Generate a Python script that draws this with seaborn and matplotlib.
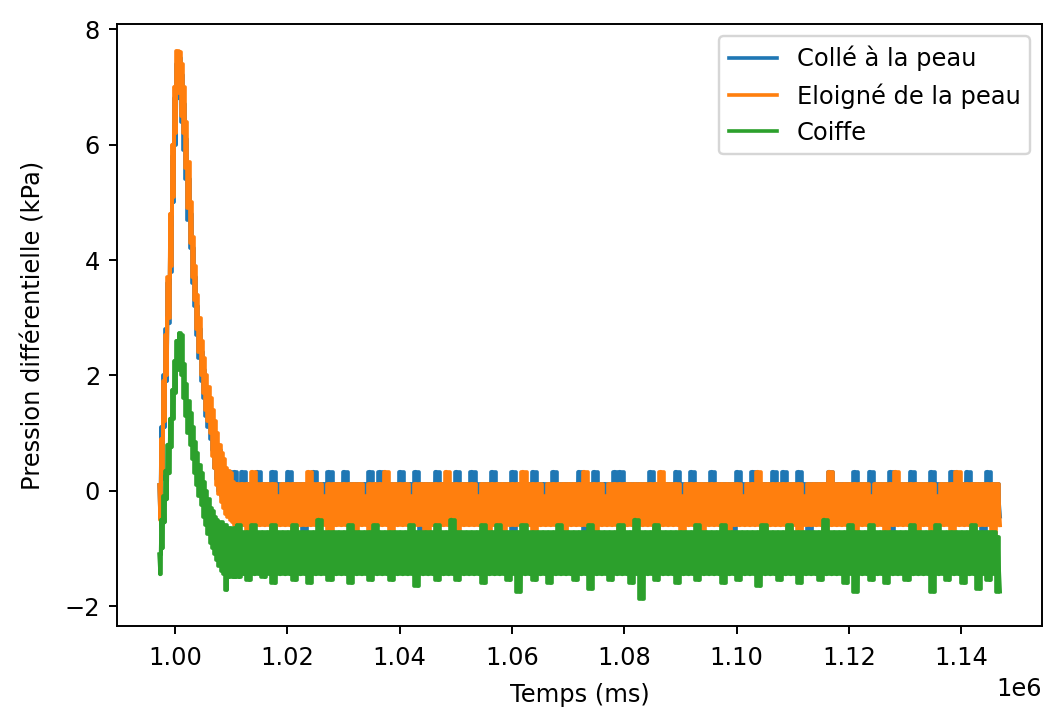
import numpy as np
import matplotlib
matplotlib.use("Agg")
import matplotlib.pyplot as plt
import seaborn as sns

# ---- data (kPa) ----
series_names = ["Collé à la peau", "Eloigné de la peau", "Coiffe"]
series_colors = ["#1f77b4", "#ff7f0e", "#2ca02c"]

# sample times (ms): pulse section and plateau section
t_pulse = np.linspace(997160, 1010800, 70)
t_flat = np.linspace(1011000, 1146940, 300)

# pulse section: upper / lower envelope of the noisy signal
blue_pulse_hi = [0.1, 1.1, 2.0, 2.8, 3.6, 4.6, 5.8, 6.8, 7.4, 7.5, 7.2, 6.7, 6.1, 5.4, 4.8, 4.2, 3.7, 3.2,
                 2.8, 2.4, 2.1, 1.8, 1.6, 1.4, 1.2, 1.0, 0.8, 0.7, 0.5, 0.4, 0.33, 0.33, 0.33, 0.12, 0.33]
blue_pulse_lo = [-0.45, 0.2, 1.1, 1.9, 2.9, 3.8, 5.0, 6.0, 6.8, 6.9, 6.4, 5.9, 5.4, 4.7, 4.2, 3.6, 3.2, 2.7,
                 2.3, 1.9, 1.6, 1.3, 1.1, 0.9, 0.7, 0.4, 0.2, 0.0, -0.1, -0.2, -0.3, -0.35, -0.45, -0.45, -0.45]
orange_pulse_hi = [0.1, 0.9, 1.9, 2.7, 3.7, 4.8, 6.0, 7.0, 7.62, 7.6, 7.4, 7.0, 6.4, 5.7, 5.0, 4.4, 3.9, 3.4,
                   3.0, 2.6, 2.3, 2.0, 1.8, 1.6, 1.4, 1.2, 1.0, 0.8, 0.65, 0.55, 0.4, 0.35, 0.3, 0.15, 0.12]
orange_pulse_lo = [-0.5, 0.3, 1.2, 2.0, 3.0, 3.9, 5.1, 6.2, 6.9, 7.0, 6.5, 6.2, 5.6, 4.9, 4.3, 3.7, 3.3, 2.8,
                   2.4, 2.0, 1.7, 1.4, 1.2, 1.0, 0.6, 0.4, 0.1, -0.05, -0.2, -0.3, -0.4, -0.45, -0.5, -0.55, -0.6]
green_pulse_hi = [-1.1, -0.5, -0.1, 0.35, 0.8, 1.25, 1.75, 2.25, 2.6, 2.73, 2.7, 2.2, 1.85, 1.55, 1.35, 1.1,
                  0.85, 0.65, 0.45, 0.3, 0.15, 0.0, -0.15, -0.3, -0.35, -0.45, -0.5, -0.55, -0.55, -0.6, -0.6,
                  -0.65, -0.65, -0.7, -0.65]
green_pulse_lo = [-1.45, -1.0, -0.55, -0.15, 0.3, 0.75, 1.25, 1.7, 2.1, 2.3, 2.0, 1.6, 1.3, 1.0, 0.8, 0.55,
                  0.3, 0.1, -0.1, -0.25, -0.45, -0.6, -0.75, -0.9, -1.0, -1.1, -1.2, -1.3, -1.4, -1.45, -1.72,
                  -1.5, -1.45, -1.5, -1.5]

# plateau section: upper / lower envelope
blue_flat_hi = [
    0.12, 0.33, 0.12, 0.12, 0.33, 0.12, 0.12, 0.33, 0.12, 0.12,
    0.33, 0.12, 0.12, 0.12, 0.12, 0.33, 0.12, 0.12, 0.33, 0.12,
    0.12, 0.33, 0.12, 0.12, 0.12, 0.12, 0.33, 0.12, 0.33, 0.12,
    0.12, 0.12, 0.33, 0.12, 0.12, 0.33, 0.12, 0.12, 0.12, 0.33,
    0.12, 0.12, 0.12, 0.33, 0.12, 0.12, 0.33, 0.12, 0.12, 0.12,
    0.33, 0.12, 0.12, 0.12, 0.33, 0.12, 0.12, 0.12, 0.33, 0.12,
    0.12, 0.12, 0.33, 0.12, 0.12, 0.12, 0.12, 0.33, 0.12, 0.12,
    0.33, 0.12, 0.12, 0.12, 0.33, 0.33, 0.12, 0.12, 0.12, 0.12,
    0.12, 0.33, 0.12, 0.12, 0.12, 0.12, 0.33, 0.12, 0.12, 0.33,
    0.12, 0.12, 0.12, 0.33, 0.12, 0.12, 0.12, 0.12, 0.33, 0.12,
    0.12, 0.33, 0.12, 0.12, 0.12, 0.33, 0.12, 0.33, 0.12, 0.12,
    0.33, 0.12, 0.12, 0.12, 0.12, 0.12, 0.33, 0.12, 0.12, 0.12,
    0.12, 0.33, 0.12, 0.12, 0.33, 0.12, 0.12, 0.12, 0.33, 0.12,
    0.12, 0.12, 0.33, 0.12, 0.12, 0.12, 0.33, 0.12, 0.12, 0.12,
    0.33, 0.12, 0.12, 0.33, 0.12, 0.12, 0.12, 0.33, 0.12, 0.12]
blue_flat_lo = [
    -0.45, -0.45, -0.55, -0.45, -0.45, -0.45, -0.45, -0.45, -0.55, -0.45,
    -0.45, -0.45, -0.45, -0.7, -0.45, -0.45, -0.45, -0.45, -0.45, -0.55,
    -0.45, -0.45, -0.45, -0.45, -0.55, -0.45, -0.45, -0.45, -0.45, -0.45,
    -0.55, -0.45, -0.45, -0.45, -0.45, -0.45, -0.7, -0.45, -0.45, -0.45,
    -0.45, -0.45, -0.55, -0.45, -0.45, -0.45, -0.45, -0.45, -0.55, -0.45,
    -0.45, -0.45, -0.45, -0.45, -0.7, -0.45, -0.45, -0.55, -0.45, -0.45,
    -0.45, -0.55, -0.45, -0.45, -0.45, -0.45, -0.45, -0.45, -0.7, -0.45,
    -0.45, -0.45, -0.45, -0.55, -0.45, -0.45, -0.45, -0.45, -0.45, -0.55,
    -0.45, -0.45, -0.7, -0.45, -0.45, -0.55, -0.45, -0.45, -0.45, -0.45,
    -0.45, -0.45, -0.45, -0.45, -0.55, -0.45, -0.45, -0.7, -0.45, -0.45,
    -0.55, -0.45, -0.45, -0.45, -0.45, -0.45, -0.55, -0.45, -0.45, -0.45,
    -0.45, -0.45, -0.7, -0.45, -0.45, -0.45, -0.45, -0.55, -0.45, -0.45,
    -0.45, -0.45, -0.45, -0.55, -0.45, -0.45, -0.45, -0.45, -0.7, -0.45,
    -0.45, -0.55, -0.45, -0.45, -0.45, -0.45, -0.55, -0.45, -0.45, -0.45,
    -0.45, -0.45, -0.45, -0.55, -0.45, -0.45, -0.7, -0.45, -0.45, -0.45]
orange_flat_hi = [
    0.12, 0.12, 0.12, 0.33, 0.12, 0.12, 0.12, 0.12, -0.1, 0.12,
    0.12, 0.12, 0.12, 0.12, 0.33, 0.12, 0.12, -0.1, 0.12, 0.12,
    0.12, 0.12, 0.12, 0.12, 0.12, -0.1, 0.12, 0.12, 0.12, 0.33,
    0.12, 0.12, 0.12, 0.12, -0.1, 0.12, 0.12, 0.12, 0.12, 0.12,
    0.12, 0.33, 0.12, 0.12, 0.12, 0.12, 0.12, -0.1, 0.12, 0.12,
    0.12, 0.12, 0.12, 0.12, 0.12, 0.12, 0.33, 0.12, 0.12, 0.12,
    -0.1, 0.12, 0.12, 0.12, 0.12, 0.12, 0.12, 0.12, 0.33, 0.12,
    0.12, 0.12, -0.1, 0.12, 0.12, 0.12, 0.12, 0.12, 0.12, 0.12,
    0.12, 0.12, 0.12, 0.33, 0.12, 0.12, 0.12, -0.1, 0.12, 0.12,
    0.12, 0.12, 0.12, 0.12, 0.12, 0.12, 0.12, 0.12, 0.12, -0.1,
    0.12, 0.12, 0.33, 0.12, 0.12, 0.12, 0.12, 0.12, 0.12, 0.12,
    0.12, -0.1, 0.12, 0.12, 0.12, 0.12, 0.33, 0.12, 0.12, 0.12,
    0.12, 0.12, 0.12, 0.12, -0.1, 0.12, 0.12, 0.12, 0.12, 0.33,
    0.12, 0.12, 0.12, 0.12, 0.12, 0.12, 0.12, -0.1, 0.12, 0.12,
    0.12, 0.33, 0.12, 0.12, 0.12, 0.12, 0.12, 0.12, 0.12, 0.12]
orange_flat_lo = [
    -0.6, -0.6, -0.7, -0.6, -0.6, -0.6, -0.6, -0.8, -0.6, -0.6,
    -0.6, -0.7, -0.6, -0.6, -0.6, -0.6, -0.6, -0.6, -0.7, -0.6,
    -0.6, -0.6, -0.6, -0.8, -0.6, -0.6, -0.7, -0.6, -0.6, -0.6,
    -0.7, -0.6, -0.6, -0.6, -0.6, -0.6, -0.6, -0.7, -0.6, -0.6,
    -0.6, -0.6, -0.6, -0.7, -0.6, -0.6, -0.6, -0.6, -0.6, -0.8,
    -0.6, -0.6, -0.7, -0.6, -0.6, -0.6, -0.6, -0.6, -0.7, -0.6,
    -0.6, -0.6, -0.6, -0.6, -0.8, -0.6, -0.6, -0.6, -0.6, -0.6,
    -0.7, -0.6, -0.6, -0.6, -0.6, -0.7, -0.6, -0.6, -0.6, -0.6,
    -0.6, -0.6, -0.7, -0.6, -0.6, -0.6, -0.6, -0.8, -0.6, -0.6,
    -0.6, -0.7, -0.6, -0.6, -0.6, -0.6, -0.7, -0.6, -0.6, -0.6,
    -0.6, -0.6, -0.6, -0.7, -0.6, -0.6, -0.6, -0.6, -0.7, -0.6,
    -0.8, -0.6, -0.6, -0.6, -0.6, -0.7, -0.6, -0.6, -0.6, -0.6,
    -0.6, -0.7, -0.6, -0.6, -0.6, -0.6, -0.6, -0.7, -0.6, -0.6,
    -0.6, -0.6, -0.6, -0.8, -0.6, -0.6, -0.7, -0.6, -0.6, -0.6,
    -0.7, -0.6, -0.6, -0.6, -0.7, -0.6, -0.6, -0.6, -0.75, -0.6]
green_flat_hi = [
    -0.6, -0.72, -0.72, -0.6, -0.72, -0.72, -0.72, -0.6, -0.72, -0.72,
    -0.72, -0.6, -0.72, -0.72, -0.72, -0.72, -0.5, -0.72, -0.72, -0.72,
    -0.72, -0.72, -0.6, -0.72, -0.72, -0.72, -0.72, -0.6, -0.72, -0.72,
    -0.72, -0.72, -0.72, -0.72, -0.6, -0.72, -0.72, -0.72, -0.72, -0.6,
    -0.72, -0.72, -0.5, -0.72, -0.72, -0.72, -0.72, -0.72, -0.6, -0.72,
    -0.72, -0.6, -0.72, -0.72, -0.72, -0.72, -0.6, -0.72, -0.72, -0.72,
    -0.72, -0.72, -0.72, -0.6, -0.72, -0.72, -0.72, -0.72, -0.72, -0.6,
    -0.72, -0.72, -0.72, -0.72, -0.72, -0.6, -0.72, -0.72, -0.5, -0.72,
    -0.72, -0.72, -0.6, -0.72, -0.72, -0.72, -0.72, -0.72, -0.72, -0.72,
    -0.6, -0.72, -0.72, -0.72, -0.72, -0.6, -0.72, -0.72, -0.72, -0.72,
    -0.72, -0.72, -0.72, -0.6, -0.72, -0.72, -0.72, -0.72, -0.6, -0.72,
    -0.72, -0.72, -0.72, -0.72, -0.72, -0.5, -0.72, -0.72, -0.72, -0.72,
    -0.6, -0.72, -0.72, -0.72, -0.6, -0.72, -0.72, -0.72, -0.72, -0.72,
    -0.72, -0.72, -0.6, -0.72, -0.72, -0.72, -0.72, -0.6, -0.72, -0.72,
    -0.72, -0.72, -0.72, -0.72, -0.6, -0.72, -0.72, -0.72, -0.72, -0.8]
green_flat_lo = [
    -1.5, -1.45, -1.55, -1.45, -1.45, -1.5, -1.45, -1.6, -1.45, -1.45,
    -1.45, -1.55, -1.45, -1.45, -1.6, -1.45, -1.45, -1.45, -1.55, -1.45,
    -1.45, -1.45, -1.6, -1.45, -1.45, -1.45, -1.55, -1.45, -1.45, -1.45,
    -1.55, -1.45, -1.45, -1.45, -1.45, -1.65, -1.45, -1.45, -1.45, -1.55,
    -1.45, -1.45, -1.45, -1.55, -1.45, -1.45, -1.45, -1.45, -1.6, -1.45,
    -1.45, -1.45, -1.45, -1.55, -1.45, -1.75, -1.45, -1.45, -1.55, -1.45,
    -1.45, -1.6, -1.45, -1.45, -1.45, -1.45, -1.55, -1.45, -1.45, -1.7,
    -1.45, -1.45, -1.45, -1.55, -1.45, -1.45, -1.45, -1.6, -1.45, -1.87,
    -1.45, -1.45, -1.55, -1.45, -1.45, -1.45, -1.6, -1.45, -1.45, -1.45,
    -1.55, -1.45, -1.45, -1.45, -1.45, -1.6, -1.45, -1.45, -1.55, -1.45,
    -1.45, -1.45, -1.65, -1.45, -1.45, -1.45, -1.55, -1.45, -1.45, -1.45,
    -1.6, -1.45, -1.45, -1.45, -1.55, -1.45, -1.45, -1.45, -1.45, -1.6,
    -1.45, -1.75, -1.45, -1.45, -1.55, -1.45, -1.45, -1.6, -1.45, -1.45,
    -1.45, -1.55, -1.45, -1.45, -1.45, -1.45, -1.75, -1.45, -1.45, -1.55,
    -1.45, -1.45, -1.6, -1.45, -1.45, -1.7, -1.45, -1.55, -1.45, -1.75]


def interleave(hi, lo):
    return np.column_stack([hi, lo]).ravel()


t = np.concatenate([t_pulse, t_flat])
# centre time of each hi/lo pair
t_pairs = 0.5 * (t[0::2] + t[1::2])

highs = [blue_pulse_hi + blue_flat_hi, orange_pulse_hi + orange_flat_hi, green_pulse_hi + green_flat_hi]
lows = [blue_pulse_lo + blue_flat_lo, orange_pulse_lo + orange_flat_lo, green_pulse_lo + green_flat_lo]

DPI = 174.2
fig = plt.figure(figsize=(6.0, 4.06), dpi=DPI)
ax = fig.add_axes([117 / 1045, 1 - 626 / 707, (1042 - 117) / 1045, (626 - 24) / 707])

for z, (name, hi, lo, col) in enumerate(zip(series_names, highs, lows, series_colors)):
    y = interleave(hi, lo)
    sns.lineplot(x=t, y=y, ax=ax, color=col, label=name, estimator=None, sort=False,
                 linewidth=1.5, zorder=2 + 2 * z + 1)
    # the noisy signal oscillates densely between its envelopes: fill that band
    ax.fill_between(t_pairs, lo, hi, step="mid", facecolor=col, edgecolor=col,
                    linewidth=1.5, zorder=2 + 2 * z)

ax.tick_params(axis="x", pad=4.5)
ax.set_xlabel("Temps (ms)", labelpad=5.5)
ax.set_ylabel("Pression différentielle (kPa)", labelpad=8)
ax.legend(loc="upper right")

fig.savefig("out.png", dpi=DPI)
